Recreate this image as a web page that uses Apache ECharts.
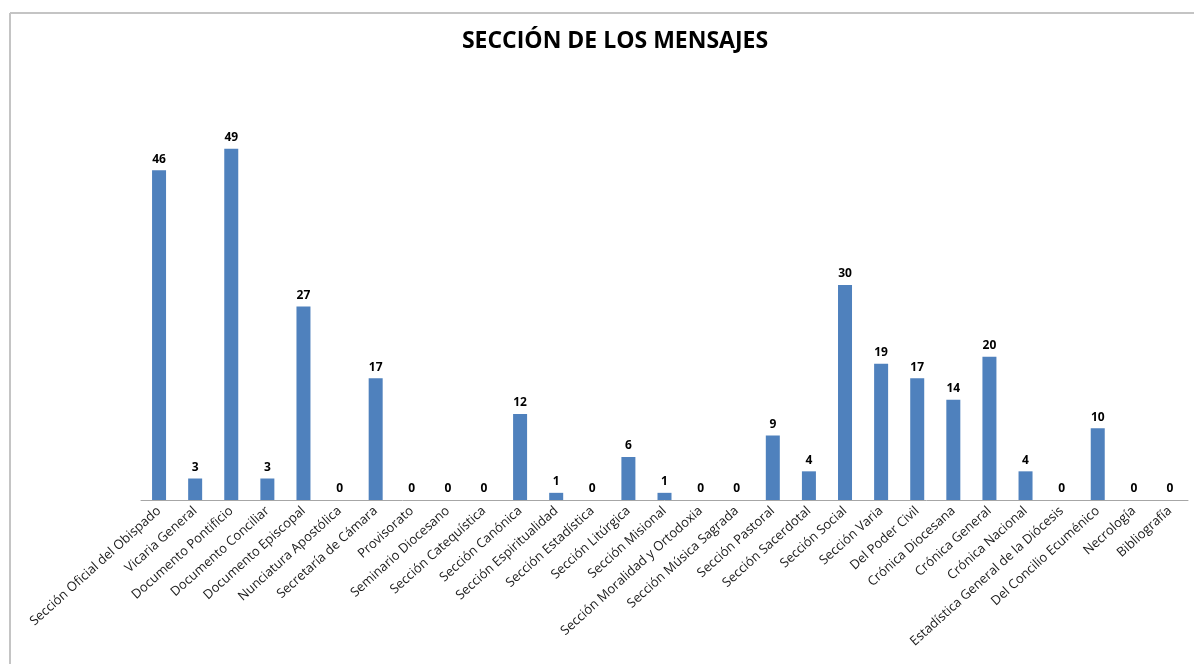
<!DOCTYPE html>
<html>
<head>
<meta charset="utf-8">
<script src="https://cdn.jsdelivr.net/npm/echarts@6/dist/echarts.min.js"></script>
<style>
  html, body { margin: 0; padding: 0; background: #fff; }
  #main { width: 1194px; height: 664px; }
</style>
</head>
<body>
<div id="main"></div>
<script>
  // secciones
  var categories = [
    'Sección Oficial del Obispado', 'Vicaria General', 'Documento Pontificio',
    'Documento Conciliar', 'Documento Episcopal', 'Nunciatura Apostólica',
    'Secretaría de Cámara', 'Provisorato', 'Seminario Diocesano',
    'Sección Catequística', 'Sección Canónica', 'Sección Espiritualidad',
    'Sección Estadística', 'Sección Litúrgica', 'Sección Misional',
    'Sección Moralidad y Ortodoxia', 'Sección Música Sagrada', 'Sección Pastoral',
    'Sección Sacerdotal', 'Sección Social', 'Sección Varia', 'Del Poder Civil',
    'Crónica Diocesana', 'Crónica General', 'Crónica Nacional',
    'Estadística General de la Diócesis', 'Del Concilio Ecuménico',
    'Necrología', 'Bibliografía'
  ];
  // numero de mensajes
  var values = [46, 3, 49, 3, 27, 0, 17, 0, 0, 0, 12, 1, 0, 6, 1, 0, 0, 9, 4, 30, 19, 17, 14, 20, 4, 0, 10, 0, 0];

  var myChart = echarts.init(document.getElementById('main'));
  myChart.setOption({
    animation: false,
    backgroundColor: '#fff',
    title: {
      text: 'SECCIÓN DE LOS MENSAJES',
      left: 610,
      top: 25,
      textAlign: 'center',
      textStyle: {
        fontFamily: 'Open Sans',
        fontWeight: 'bold',
        fontSize: 23,
        color: '#000'
      }
    },
    graphic: [
      { type: 'line', shape: { x1: 10, y1: 13, x2: 1194, y2: 13 }, style: { stroke: '#c4c4c4', lineWidth: 2 } },
      { type: 'line', shape: { x1: 10, y1: 13, x2: 10, y2: 664 }, style: { stroke: '#c4c4c4', lineWidth: 2 } }
    ],
    grid: {
      left: 141,
      right: 6,
      top: 70,
      bottom: 164
    },
    xAxis: {
      type: 'category',
      data: categories,
      axisTick: { show: false },
      axisLine: { lineStyle: { color: '#a6a6a6', width: 1 } },
      axisLabel: {
        interval: 0,
        rotate: 42,
        margin: 9,
        fontFamily: 'Open Sans',
        fontSize: 13,
        color: '#1a1a1a'
      }
    },
    yAxis: {
      type: 'value',
      min: 0,
      max: 60,
      show: false
    },
    series: [{
      name: 'Mensajes',
      type: 'bar',
      data: values,
      barWidth: 14,
      itemStyle: { color: '#4F81BD' },
      label: {
        show: true,
        position: 'top',
        distance: 5,
        fontFamily: 'Open Sans',
        fontWeight: 'bold',
        fontSize: 12,
        color: '#000'
      }
    }]
  });
</script>
</body>
</html>
